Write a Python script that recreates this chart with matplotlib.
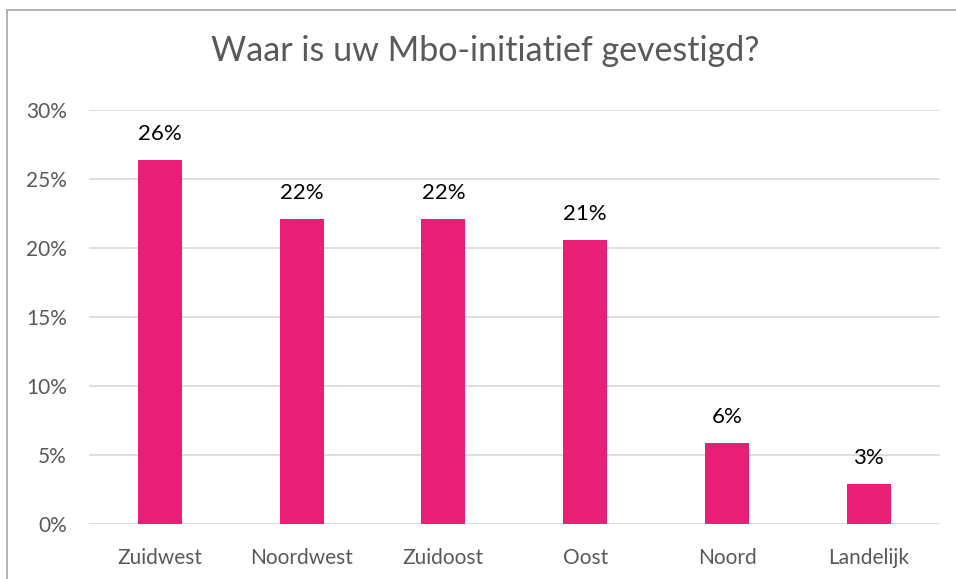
import matplotlib
matplotlib.use("Agg")
from matplotlib import pyplot as plt
from matplotlib.ticker import PercentFormatter
from matplotlib.lines import Line2D

plt.rcParams['font.family'] = ['Lato', 'DejaVu Sans']

categories = ["Zuidwest", "Noordwest", "Zuidoost", "Oost", "Noord", "Landelijk"]
values = [26.4, 22.1, 22.1, 20.6, 5.9, 2.9]  # percent
labels = ["26%", "22%", "22%", "21%", "6%", "3%"]
yticks = [0, 5, 10, 15, 20, 25, 30]

barColor = "#E91E75"
gray = "#595959"

fig = plt.figure(figsize=(9.56, 5.79), dpi=100)
ax = fig.add_axes([0.093, 0.095, 0.89, 0.715])

x = range(len(categories))
ax.bar(x, values, width=0.31, color=barColor, zorder=3)
for i, v in enumerate(values):
    ax.text(i, v + 1.15, labels[i], ha='center', va='bottom', fontsize=16, color='black')

ax.set_xlim(-0.5, len(categories) - 0.5)
ax.set_ylim(0, 30)
ax.set_yticks(yticks)
ax.yaxis.set_major_formatter(PercentFormatter(decimals=0))
ax.set_xticks(list(x))
ax.set_xticklabels(categories)
ax.tick_params(axis='both', length=0, labelsize=15, colors=gray)
ax.tick_params(axis='x', pad=17)
ax.tick_params(axis='y', pad=16)
ax.grid(axis='y', color='#D9D9D9', linewidth=1.2, zorder=0)
for s in ax.spines.values():
    s.set_visible(False)

fig.text(0.508, 0.912, "Waar is uw Mbo-initiatief gevestigd?", ha='center', va='center',
         fontsize=24.5, color=gray)

# outer chart border (top and left visible, rest cropped)
fig.add_artist(Line2D([7/956, 1.0], [1 - 10/579, 1 - 10/579], color='#A6A6A6', linewidth=1.2))
fig.add_artist(Line2D([7/956, 7/956], [0, 1 - 10/579], color='#A6A6A6', linewidth=1.2))

fig.savefig("out.png", dpi=100)
